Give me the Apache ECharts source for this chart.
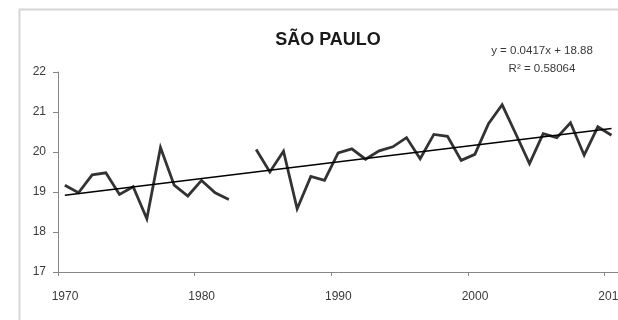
<!DOCTYPE html>
<html>
<head>
<meta charset="utf-8">
<title>São Paulo</title>
<script src="https://cdn.jsdelivr.net/npm/echarts@6/dist/echarts.min.js"></script>
<style>
  html, body { margin: 0; padding: 0; background: #ffffff; }
  #chart { width: 618px; height: 320px; }
</style>
</head>
<body>
<div id="chart"></div>
<script>
// Annual mean temperature (°C), São Paulo; 1983 has no record
const years = [
  1970, 1971, 1972, 1973, 1974, 1975, 1976, 1977, 1978, 1979,
  1980, 1981, 1982, 1983, 1984, 1985, 1986, 1987, 1988, 1989,
  1990, 1991, 1992, 1993, 1994, 1995, 1996, 1997, 1998, 1999,
  2000, 2001, 2002, 2003, 2004, 2005, 2006, 2007, 2008, 2009,
  2010
];
const temps = [
  19.17, 18.98, 19.43, 19.48, 18.94, 19.13, 18.33, 20.11, 19.17, 18.90,
  19.29, 18.98, 18.81, null, 20.06, 19.50, 20.02, 18.58, 19.39, 19.29,
  19.98, 20.08, 19.82, 20.03, 20.13, 20.36, 19.83, 20.44, 20.39, 19.79,
  19.94, 20.71, 21.18, 20.45, 19.71, 20.46, 20.36, 20.73, 19.92, 20.63,
  20.42
];
const yTicks = [17, 18, 19, 20, 21, 22];
const xTicks = [1970, 1980, 1990, 2000, 2010];

// Linear trend fitted on the series index (1 = first year)
const trendSlope = 0.0417;
const trendIntercept = 18.88;
const trendR2 = 0.58064;

// Each annual mean sits at the middle of its year
const MID_YEAR = 0.5;

const FONT = '"Liberation Sans", Arial, sans-serif';

const series1 = years.map((yr, i) => [yr + MID_YEAR, temps[i] == null ? '-' : temps[i]]);
const trendPts = [0, years.length - 1].map(i => [years[i] + MID_YEAR, trendSlope * (i + 1) + trendIntercept]);

const chart = echarts.init(document.getElementById('chart'), null, { renderer: 'canvas' });

chart.setOption({
  backgroundColor: '#ffffff',
  animation: false,
  graphic: [
    {
      type: 'rect',
      left: 17, top: 7,
      shape: { width: 640, height: 340 },
      style: { fill: 'none', stroke: '#d6d6d6', lineWidth: 2 },
      silent: true
    },
    {
      type: 'text',
      x: 328, y: 40,
      style: {
        text: 'SÃO PAULO',
        font: 'bold 18px ' + FONT,
        fill: '#1a1a1a',
        align: 'center',
        verticalAlign: 'middle'
      },
      silent: true
    },
    {
      type: 'text',
      x: 542, y: 51,
      style: {
        text: 'y = ' + trendSlope + 'x + ' + trendIntercept,
        font: '11.5px ' + FONT,
        fill: '#3a3a3a',
        align: 'center',
        verticalAlign: 'middle'
      },
      silent: true
    },
    {
      type: 'text',
      x: 542, y: 69,
      style: {
        text: 'R² = ' + trendR2,
        font: '11.5px ' + FONT,
        fill: '#3a3a3a',
        align: 'center',
        verticalAlign: 'middle'
      },
      silent: true
    }
  ],
  grid: {
    left: 58,
    top: 72,
    width: 574,
    height: 200,
    containLabel: false,
    outerBoundsMode: 'none'
  },
  xAxis: {
    type: 'value',
    min: 1970,
    max: 2012,
    interval: 10,
    axisLine: { show: true, lineStyle: { color: '#868686', width: 1 } },
    axisTick: { show: true, length: 4, lineStyle: { color: '#868686' } },
    splitLine: { show: false },
    axisLabel: {
      margin: 19,
      padding: [0, 0, 0, 14],
      color: '#3a3a3a',
      fontFamily: FONT,
      fontSize: 12,
      formatter: v => (xTicks.indexOf(v) >= 0 ? String(v) : '')
    }
  },
  yAxis: {
    type: 'value',
    min: yTicks[0],
    max: yTicks[yTicks.length - 1],
    interval: 1,
    axisLine: { show: true, lineStyle: { color: '#868686', width: 1 } },
    axisTick: { show: true, length: 5, lineStyle: { color: '#868686' } },
    splitLine: { show: false },
    axisLabel: {
      margin: 12,
      color: '#3a3a3a',
      fontFamily: FONT,
      fontSize: 12,
      formatter: v => (yTicks.indexOf(v) >= 0 ? String(v) : '')
    }
  },
  series: [
    {
      name: 'Temperatura média',
      type: 'line',
      data: series1,
      showSymbol: false,
      connectNulls: false,
      lineStyle: { color: '#333333', width: 2.8, join: 'miter' },
      z: 2
    },
    {
      name: 'Tendência linear',
      type: 'line',
      data: trendPts,
      showSymbol: false,
      lineStyle: { color: '#000000', width: 1.5 },
      z: 3
    }
  ]
});
</script>
</body>
</html>
